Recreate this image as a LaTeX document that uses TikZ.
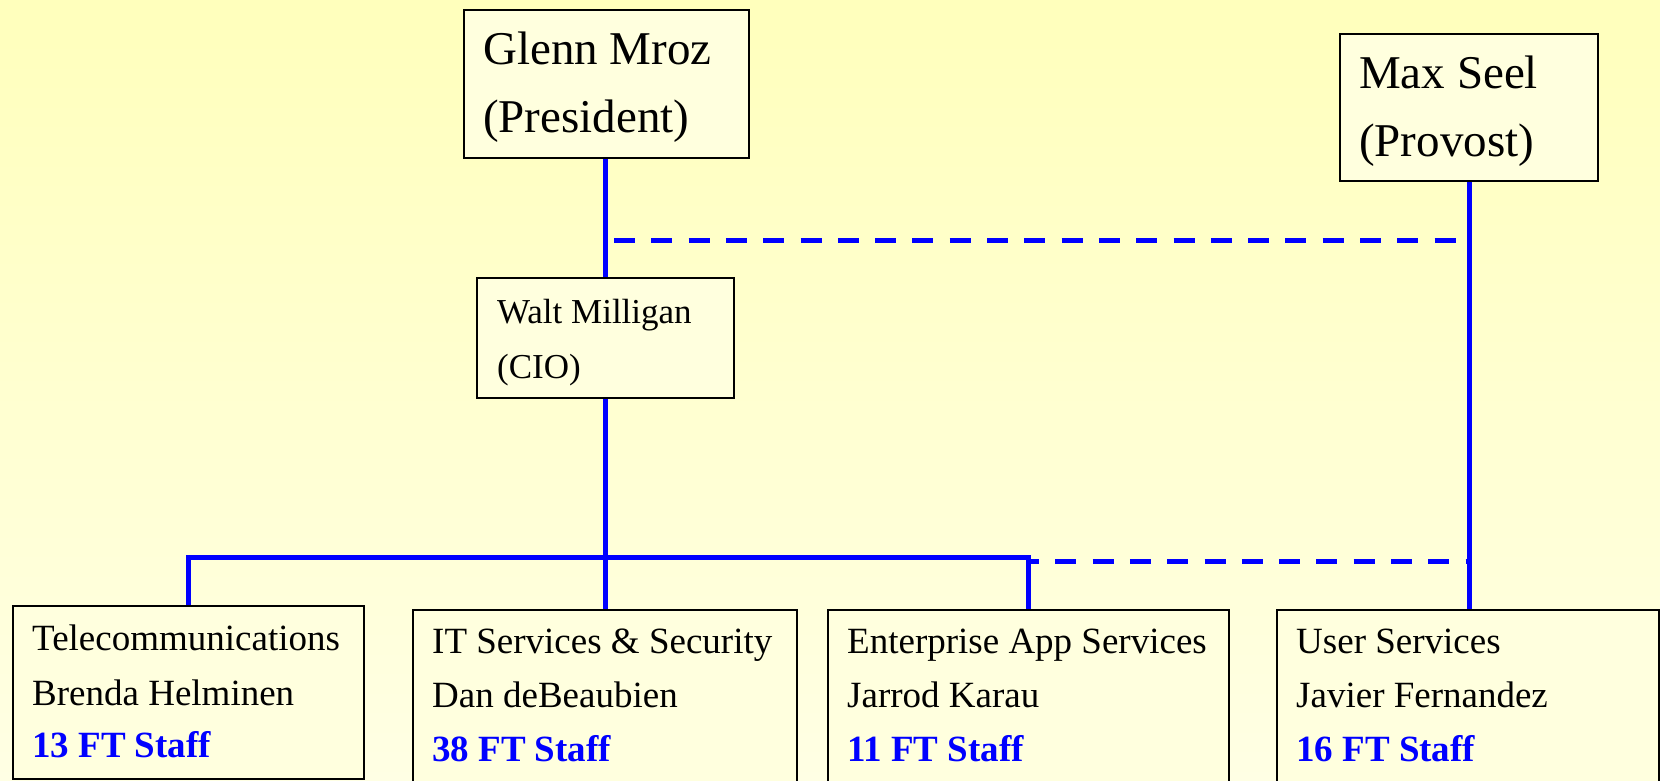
\documentclass[tikz,border=0pt]{standalone}
\usepackage{fontspec}
\setmainfont{Liberation Serif}
\definecolor{bgtop}{RGB}{255,255,188}
\definecolor{bgbot}{RGB}{255,255,228}
\definecolor{boxfill}{RGB}{255,255,222}
\definecolor{linkblue}{RGB}{0,0,255}
\begin{document}
\begin{tikzpicture}[x=1pt,y=-1pt,
  orgbox/.style={draw=black,line width=2pt,fill=boxfill,anchor=north west,inner sep=0pt},
  bigtext/.style={anchor=base west,inner sep=0pt,font=\fontsize{47}{56}\selectfont},
  midtext/.style={anchor=base west,inner sep=0pt,font=\fontsize{35}{42}\selectfont},
  smalltext/.style={anchor=base west,inner sep=0pt,font=\fontsize{37}{44}\selectfont},
  stafftext/.style={anchor=base west,inner sep=0pt,font=\fontsize{37}{44}\selectfont\bfseries,text=linkblue},
  solidlink/.style={draw=linkblue,line width=5pt},
  dashlink/.style={draw=linkblue,line width=5pt,dash pattern=on 21pt off 16.3pt}]
\shade[top color=bgtop,bottom color=bgbot] (0,0) rectangle (1660,781);
\useasboundingbox (0,0) rectangle (1660,781);

% boxes
\node[orgbox,minimum width=285pt,minimum height=148pt] (glenn) at (463,9) {};
\node[orgbox,minimum width=258pt,minimum height=147pt] (max) at (1339,33) {};
\node[orgbox,minimum width=257pt,minimum height=120pt] (walt) at (476,277) {};
\node[orgbox,minimum width=351pt,minimum height=173pt] (tel) at (12,605) {};
\node[orgbox,minimum width=384pt,minimum height=200pt] (its) at (412,609) {};
\node[orgbox,minimum width=401pt,minimum height=200pt] (eas) at (827,609) {};
\node[orgbox,minimum width=382pt,minimum height=200pt] (us) at (1276,609) {};

% texts
\node[bigtext] (glenn1) at (483,65) {Glenn Mroz};
\node[bigtext] (glenn2) at (483,132) {(President)};
\node[bigtext] (max1) at (1359,89) {Max Seel};
\node[bigtext] (max2) at (1359,157) {(Provost)};
\node[midtext] (walt1) at (497,323) {Walt Milligan};
\node[midtext] (walt2) at (497,378) {(CIO)};

\node[smalltext] (tel1) at (32,650) {Telecommunications};
\node[smalltext] (tel2) at (32,705) {Brenda Helminen};
\node[stafftext] (tel3) at (32,757) {13 FT Staff};

\node[smalltext] (its1) at (432,653) {IT Services \& Security};
\node[smalltext] (its2) at (432,707) {Dan deBeaubien};
\node[stafftext] (its3) at (432,761) {38 FT Staff};

\node[smalltext] (eas1) at (847,653) {Enterprise App Services};
\node[smalltext] (eas2) at (847,707) {Jarrod Karau};
\node[stafftext] (eas3) at (847,761) {11 FT Staff};

\node[smalltext] (us1) at (1296,653) {User Services};
\node[smalltext] (us2) at (1296,707) {Javier Fernandez};
\node[stafftext] (us3) at (1296,761) {16 FT Staff};

% connectors
\coordinate (bus) at (604,557);
\coordinate (dashA) at (614,240);
\coordinate (dashB) at (1028,561);
\draw[solidlink] (walt.north) -- (walt.north |- glenn.south);
\draw[solidlink] (walt.south) -- (walt.south |- its.north);
\draw[solidlink] (tel.north) -- (tel.north |- bus) -- (eas.north |- bus) -- (eas.north);
\draw[solidlink] (max.south) -- (max.south |- us.north);
\draw[dashlink] (dashA) -- (dashA -| max.south);
\draw[dashlink,dash phase=10pt] (dashB) -- (dashB -| us.north);
\end{tikzpicture}
\end{document}
